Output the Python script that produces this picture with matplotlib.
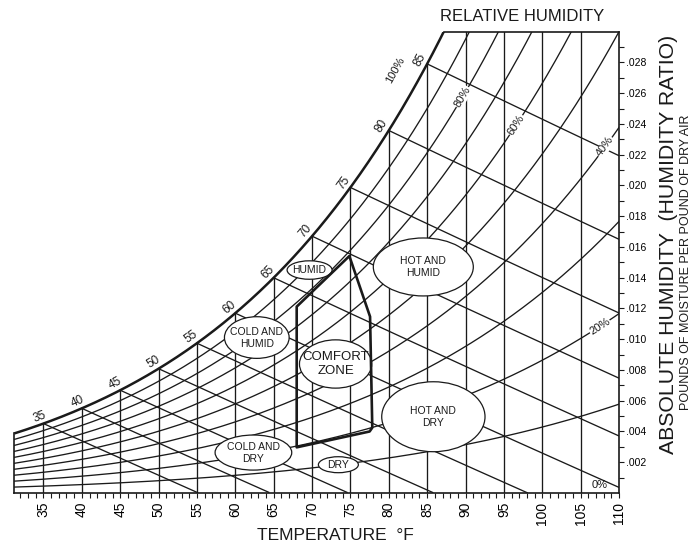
import numpy as np
import matplotlib
matplotlib.use("Agg")
import matplotlib.pyplot as plt
from matplotlib.patches import Ellipse, Polygon

plt.rcParams['font.family'] = ['Liberation Sans', 'DejaVu Sans']

# ---------------- chart values ----------------
t_min, t_max = 31.2, 110.0          # dry-bulb range, deg F
w_max = 0.030                       # humidity-ratio range, lb/lb
dry_bulb_lines = [35, 40, 45, 50, 55, 60, 65, 70, 75, 80, 85, 90, 95, 100, 105]
dry_bulb_ticks = [35, 40, 45, 50, 55, 60, 65, 70, 75, 80, 85, 90, 95, 100, 105, 110]
humidity_ticks = [0.002, 0.004, 0.006, 0.008, 0.010, 0.012, 0.014,
                  0.016, 0.018, 0.020, 0.022, 0.024, 0.026, 0.028]
humidity_labels = [".002", ".004", ".006", ".008", ".010", ".012", ".014",
                   ".016", ".018", ".020", ".022", ".024", ".026", ".028"]
rh_levels = [0.9, 0.8, 0.7, 0.6, 0.5, 0.4, 0.3, 0.2, 0.1]
wet_bulb_temps = [35, 40, 45, 50, 55, 60, 65, 70, 75, 80, 85]
rh_label_text = ["80%", "60%", "40%", "20%"]
rh_label_level = [0.8, 0.6, 0.4, 0.2]
rh_label_t = [89.6, 96.6, 108.2, 107.5]
comfort_t = [68.0, 68.0, 74.86, 77.56, 77.85, 77.5]
comfort_w = [0.00297, 0.01212, 0.01541, 0.01147, 0.00425, 0.00400]
zone_labels = ["HUMID", "COLD AND\nHUMID", "COMFORT\nZONE", "COLD AND\nDRY",
               "DRY", "HOT AND\nHUMID", "HOT AND\nDRY"]
zone_t = [69.68, 62.8, 73.07, 62.36, 73.43, 84.5, 85.81]
zone_w = [0.0145, 0.01011, 0.00839, 0.00263, 0.00184, 0.0147, 0.00496]
zone_dt = [5.86, 8.43, 9.42, 9.99, 5.21, 13.03, 13.46]
zone_dw = [0.0012, 0.00271, 0.00314, 0.00228, 0.00104, 0.00377, 0.00455]
pressure = 13.86   # effective total pressure (psia) that fits the chart

# ---------------- psychrometric relations ----------------
def p_sat(t_f):
    tc = (np.asarray(t_f, float) - 32.0) / 1.8
    return 6.1094 * np.exp(17.625 * tc / (tc + 243.04)) * 0.0145038

def w_rh(t_f, rh):
    pw = rh * p_sat(t_f)
    return 0.622 * pw / (pressure - pw)

def w_wb(t_f, twb):
    ws = w_rh(twb, 1.0)
    return ((1093 - 0.556 * twb) * ws - 0.240 * (t_f - twb)) / (1093 + 0.444 * t_f - twb)

LC = '#1a1a1a'
fig = plt.figure(figsize=(6.94, 5.44), dpi=100)
ax = fig.add_axes([14.3 / 694, 51 / 544, (619 - 14.3) / 694, (493 - 31.7) / 544])
ax.set_xlim(t_min, t_max)
ax.set_ylim(0, w_max)

tg = np.linspace(t_min, t_max, 800)
ws_g = w_rh(tg, 1.0)
t_top = float(np.interp(w_max, ws_g, tg))

# saturation curve
ax.plot(tg, ws_g, color=LC, lw=1.8, solid_capstyle='butt', zorder=2)
# relative humidity curves
for rh in rh_levels:
    ax.plot(tg, w_rh(tg, rh), color=LC, lw=0.95, zorder=1)
# dry-bulb verticals
for t in dry_bulb_lines:
    ax.plot([t, t], [0, min(float(w_rh(t, 1.0)), w_max)], color=LC, lw=0.95, zorder=1)
# wet-bulb lines
for twb in wet_bulb_temps:
    tt = np.linspace(twb, t_max, 300)
    ww = w_wb(tt, twb)
    m = ww >= 0
    ax.plot(tt[m], ww[m], color=LC, lw=0.95, zorder=1)

# frame
ax.plot([t_top, t_max], [w_max, w_max], color=LC, lw=1.2, clip_on=False, zorder=2)
ax.plot([t_min, t_min], [0, float(w_rh(t_min, 1.0))], color=LC, lw=1.2, clip_on=False, zorder=2)
for s in ['top', 'left']:
    ax.spines[s].set_visible(False)
for s in ['bottom', 'right']:
    ax.spines[s].set_linewidth(1.2)
    ax.spines[s].set_color(LC)

def disp_angle(t, dt=0.3, f=None):
    p1 = ax.transData.transform((t - dt, f(t - dt)))
    p2 = ax.transData.transform((t + dt, f(t + dt)))
    return np.degrees(np.arctan2(p2[1] - p1[1], p2[0] - p1[0]))

# wet-bulb labels on saturation curve
for twb in wet_bulb_temps:
    w0 = float(w_rh(twb, 1.0))
    ang = disp_angle(twb, f=lambda x: float(w_rh(x, 1.0)))
    ax.text(twb - 0.25, w0 + 0.00008, str(twb), fontsize=8.5, rotation=ang,
            rotation_mode='anchor', ha='center', va='bottom', color=LC, zorder=6)

# RH labels
ax.text(80.8, 0.0275, "100%", fontsize=8, rotation=61, ha='center', va='center',
        color=LC, zorder=6)
for txt, rh, t in zip(rh_label_text, rh_label_level, rh_label_t):
    w0 = float(w_rh(t, rh))
    ang = disp_angle(t, f=lambda x, r=rh: float(w_rh(x, r)))
    ax.text(t, w0, txt, fontsize=8, rotation=ang, rotation_mode='anchor',
            ha='center', va='center', color=LC, zorder=6,
            bbox=dict(boxstyle='square,pad=0.05', fc='white', ec='none'))
ax.text(107.5, 0.00052, "0%", fontsize=8, ha='center', va='center', color=LC, zorder=6)

# zone ellipses
for lab, t, w, dt, dw in zip(zone_labels, zone_t, zone_w, zone_dt, zone_dw):
    ax.add_patch(Ellipse((t, w), dt, dw, fc='white', ec=LC, lw=0.9, zorder=3))
    fs = 9.5 if lab.startswith("COMFORT") else 7.5
    ax.text(t, w, lab, fontsize=fs, ha='center', va='center', color=LC,
            linespacing=1.25, zorder=5)

# comfort zone polygon
ax.add_patch(Polygon(list(zip(comfort_t, comfort_w)), closed=True, fill=False,
                     ec=LC, lw=1.9, joinstyle='round', zorder=4))

# ticks
ax.set_xticks(dry_bulb_ticks)
ax.set_xticklabels([str(v) for v in dry_bulb_ticks])
ax.set_xticks(np.arange(32, 111, 1), minor=True)
ax.tick_params(axis='x', which='both', direction='out', length=3.6, width=0.8,
               color=LC, pad=2.7, labelsize=10, labelrotation=90)
ax.yaxis.tick_right()
ax.set_yticks(humidity_ticks)
ax.set_yticklabels(humidity_labels)
ax.set_yticks(np.arange(0.001, 0.0295, 0.001), minor=True)
ax.tick_params(axis='y', which='both', direction='out', length=3.6, width=0.8,
               color=LC, pad=1.5, labelsize=7.5)

# titles
fig.text(522 / 694, 1 - 16.7 / 544, "RELATIVE HUMIDITY", fontsize=12,
         ha='center', va='center', color=LC)
fig.text(335 / 694, 1 - 535 / 544, "TEMPERATURE  °F", fontsize=12.5,
         ha='center', va='center', color=LC)
fig.text(669 / 694, 1 - 244 / 544, "ABSOLUTE HUMIDITY  (HUMIDITY RATIO)",
         fontsize=15.3, rotation=90, ha='center', va='center', color=LC)
fig.text(686 / 694, 1 - 262.5 / 544, "POUNDS OF MOISTURE PER POUND OF DRY AIR",
         fontsize=9, rotation=90, ha='center', va='center', color=LC)

fig.savefig("out.png", dpi=100, facecolor='white')
